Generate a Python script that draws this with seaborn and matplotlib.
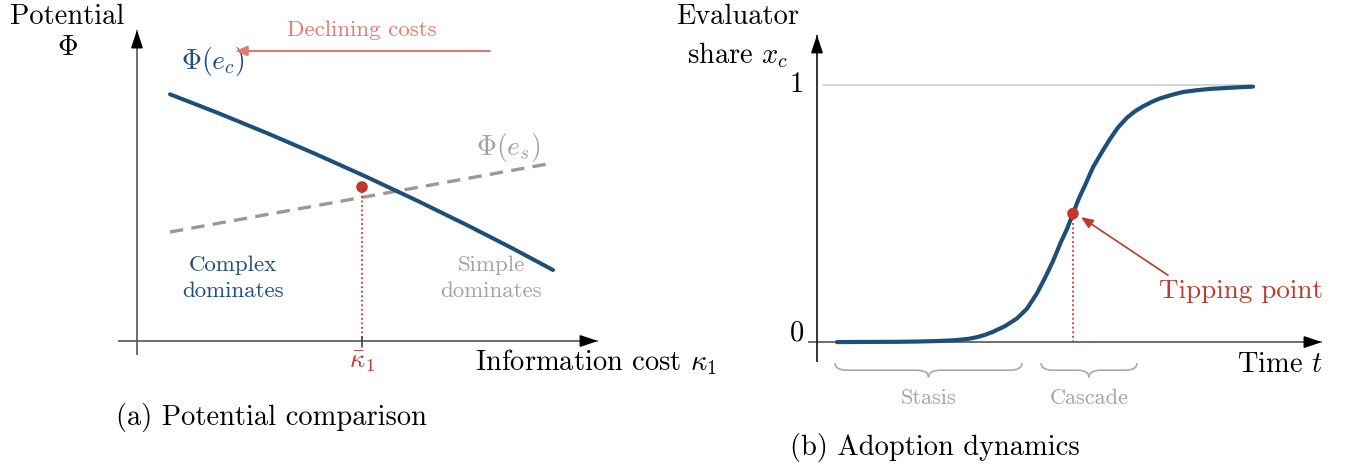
import numpy as np
import matplotlib
matplotlib.use("Agg")
import matplotlib.pyplot as plt
from matplotlib.path import Path
from matplotlib.patches import PathPatch
import seaborn as sns

#%% data

# (a) potential comparison
kappa_c = [0.33, 0.80, 1.30, 1.80, 2.30, 2.80, 3.30, 3.75, 4.16]
phi_c = [2.467, 2.284, 2.079, 1.864, 1.639, 1.404, 1.159, 0.929, 0.71]
kappa_s = [0.33, 4.16]
phi_s = [1.09, 1.78]
kappa_bar = 2.25
phi_bar = 1.54

# (b) adoption dynamics
t_vals = [0.20, 0.80, 1.00, 1.20, 1.32, 1.43, 1.52, 1.60, 1.68, 1.76, 1.88, 2.00, 2.10,
          2.20, 2.28, 2.36, 2.44, 2.50, 2.56, 2.62, 2.68, 2.76, 2.85, 2.93, 3.01, 3.10,
          3.18, 3.26, 3.35, 3.43, 3.55, 3.66, 3.80, 3.93, 4.15, 4.36]
x_share = [0.0, 0.001, 0.002, 0.004, 0.006, 0.009, 0.013, 0.019, 0.028, 0.040, 0.062, 0.092,
           0.130, 0.190, 0.250, 0.315, 0.390, 0.440, 0.500, 0.560, 0.610, 0.680, 0.740, 0.790,
           0.835, 0.873, 0.898, 0.917, 0.935, 0.948, 0.962, 0.973, 0.980, 0.985, 0.990, 0.994]
t_tip = 2.56
x_tip = 0.50
phases = ["Stasis", "Cascade"]
phase_start = [0.18, 2.24]
phase_end = [2.05, 3.20]

#%% style

sns.set_theme(style="white")
plt.rcParams["font.family"] = "serif"
plt.rcParams["font.serif"] = ["cmr10", "DejaVu Serif"]
plt.rcParams["mathtext.fontset"] = "cm"
plt.rcParams["axes.formatter.use_mathtext"] = True
plt.rcParams["text.color"] = "black"

blue = "#1f4e79"
red = "#c0392b"
lightred = "#e07a72"
gray = "#999999"
txtgray = "#a3a3a3"
big = 20.5

fig = plt.figure(figsize=(13.52, 4.68), dpi=100)
ax1 = fig.add_axes([0, 0, 0.5, 1])
ax2 = fig.add_axes([0.5, 0, 0.5, 1])
for ax in (ax1, ax2):
    ax.set_axis_off()
ax1.set_xlim(-1.37, 5.39)
ax1.set_ylim(-1.27, 3.41)
ax2.set_xlim(-1.41, 5.35)
ax2.set_ylim(-0.49, 1.331)


def axis_arrow(ax, x0, y0, x1, y1, lc):
    ax.plot([x0, x1], [y0, y1], color=lc, lw=1.2, solid_capstyle="butt")
    ax.annotate("", xy=(x1, y1), xytext=(x0 + (x1 - x0) * 0.98, y0 + (y1 - y0) * 0.98),
                arrowprops=dict(arrowstyle="-|>,head_length=0.9,head_width=0.3",
                                color="black", lw=1.2, shrinkA=0, shrinkB=0))


def brace(ax, x0, x1, y0, depth, color):
    xm = (x0 + x1) / 2
    h = depth / 2
    r = min(0.12, (x1 - x0) / 6)
    verts = [(x0, y0), (x0, y0 - h), (x0 + r, y0 - h),
             (xm - r, y0 - h), (xm, y0 - h), (xm, y0 - depth),
             (xm, y0 - h), (xm + r, y0 - h),
             (x1 - r, y0 - h), (x1, y0 - h), (x1, y0)]
    codes = [Path.MOVETO, Path.CURVE3, Path.CURVE3,
             Path.LINETO, Path.CURVE3, Path.CURVE3,
             Path.CURVE3, Path.CURVE3,
             Path.LINETO, Path.CURVE3, Path.CURVE3]
    ax.add_patch(PathPatch(Path(verts, codes), fill=False, edgecolor=color, lw=1.2))


#%% (a) potential comparison

axis_arrow(ax1, -0.19, 0, 4.61, 0, "#555555")
axis_arrow(ax1, 0, -0.14, 0, 3.11, "#555555")

sns.lineplot(x=kappa_s, y=phi_s, ax=ax1, color=gray, linewidth=2.4)
ax1.lines[-1].set_dashes([4, 2.5])
sns.lineplot(x=kappa_c, y=phi_c, ax=ax1, color=blue, linewidth=2.9,
             solid_joinstyle="round")

ax1.plot([kappa_bar, kappa_bar], [phi_bar, 0], color=red, lw=1.3, ls=(0, (1, 1.5)))
ax1.plot([kappa_bar, kappa_bar], [0.04, -0.06], color="#444444", lw=1.2)
sns.scatterplot(x=[kappa_bar], y=[phi_bar], ax=ax1, color=red, s=70, edgecolor="none", zorder=5)

ax1.text(-0.70, 3.24, "Potential", ha="center", va="center", fontsize=big)
ax1.text(-0.70, 2.93, "$\\Phi$", ha="center", va="center", fontsize=big)
ax1.text(0.76, 2.79, "$\\Phi(e_c)$", ha="center", va="center", fontsize=20, color=blue)
ax1.text(2.25, 3.11, "Declining costs", ha="center", va="center", fontsize=16.5, color=lightred)
ax1.annotate("", xy=(0.98, 2.90), xytext=(3.53, 2.90),
             arrowprops=dict(arrowstyle="-|>,head_length=0.6,head_width=0.25",
                             color=lightred, lw=1.5, shrinkA=0, shrinkB=0))
ax1.text(3.71, 1.93, "$\\Phi(e_s)$", ha="center", va="center", fontsize=20, color=txtgray)
ax1.text(0.96, 0.76, "Complex", ha="center", va="center", fontsize=16.5, color=blue)
ax1.text(0.96, 0.50, "dominates", ha="center", va="center", fontsize=16.5, color=blue)
ax1.text(3.54, 0.76, "Simple", ha="center", va="center", fontsize=16.5, color=txtgray)
ax1.text(3.54, 0.50, "dominates", ha="center", va="center", fontsize=16.5, color=txtgray)
ax1.text(kappa_bar, -0.21, "$\\bar{\\kappa}_1$", ha="center", va="center", fontsize=19, color=red)
ax1.text(3.38, -0.21, "Information cost $\\kappa_1$", ha="left", va="center", fontsize=big)
ax1.text(1.34, -0.77, "(a) Potential comparison", ha="center", va="center", fontsize=big)

#%% (b) adoption dynamics

ax2.plot([0.06, 4.33], [1, 1], color="#d0d0d0", lw=1.2)
axis_arrow(ax2, -0.09, 0, 5.05, 0, "#555555")
axis_arrow(ax2, 0, -0.078, 0, 1.195, "#111111")

sns.lineplot(x=t_vals, y=x_share, ax=ax2, color=blue, linewidth=3.0,
             solid_joinstyle="round")
ax2.plot([t_tip, t_tip], [x_tip, 0], color=red, lw=1.3, ls=(0, (1, 1.5)))
sns.scatterplot(x=[t_tip], y=[x_tip], ax=ax2, color=red, s=70, edgecolor="none", zorder=5)
ax2.annotate("", xy=(2.64, 0.486), xytext=(3.51, 0.26),
             arrowprops=dict(arrowstyle="-|>,head_length=0.6,head_width=0.25",
                             color=red, lw=1.2, shrinkA=0, shrinkB=0))

ax2.text(-0.79, 1.265, "Evaluator", ha="center", va="center", fontsize=big)
ax2.text(-0.79, 1.115, "share $x_c$", ha="center", va="center", fontsize=big)
ax2.text(-0.20, 1.0, "1", ha="center", va="center", fontsize=big)
ax2.text(-0.20, 0.035, "0", ha="center", va="center", fontsize=big)
ax2.text(4.63, -0.09, "Time $t$", ha="center", va="center", fontsize=big)
ax2.text(4.24, 0.198, "Tipping point", ha="center", va="center", fontsize=19.5, color=red)

for name, a, b in zip(phases, phase_start, phase_end):
    brace(ax2, a, b, -0.082, 0.055, "#aaaaaa")
    ax2.text((a + b) / 2, -0.218, name, ha="center", va="center", fontsize=16, color=txtgray)

ax2.text(1.18, -0.412, "(b) Adoption dynamics", ha="center", va="center", fontsize=big)

fig.savefig("out.png", dpi=100)
